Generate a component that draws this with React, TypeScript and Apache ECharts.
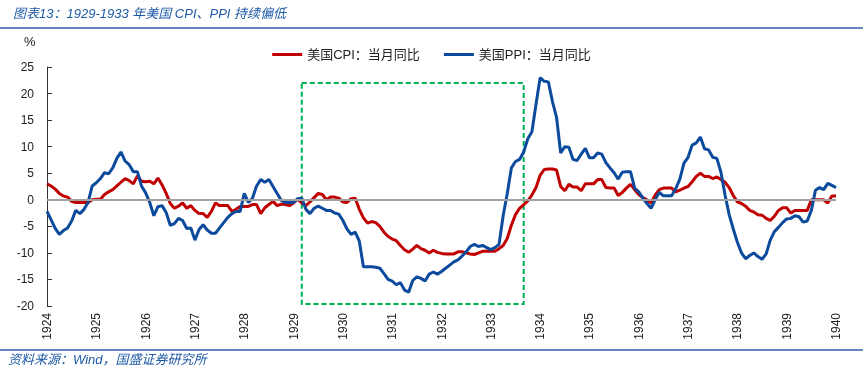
import React, { useEffect, useRef } from "react";
import * as echarts from "echarts";

const START_YEAR = 1924;

const cpi: number[] = [
  3.0, 2.6, 2.0, 1.2, 0.7, 0.5, -0.3, -0.5, -0.5, -0.5, -0.5, 0.0,
  0.1, 0.1, 1.0, 1.5, 1.9, 2.6, 3.3, 4.0, 3.6, 3.0, 4.5, 3.5,
  3.4, 3.5, 3.0, 4.1, 2.8, 1.2, -0.7, -1.6, -1.2, -0.6, -1.6, -1.1,
  -2.0, -2.6, -2.6, -3.3, -2.2, -0.6, -1.1, -1.1, -1.1, -2.2, -1.8, -1.25,
  -1.25, -1.25, -0.9, -0.9, -2.6, -1.5, -0.9, -0.3, -1.1, -0.8, -0.9, -1.1,
  -0.6, 0.1, -0.6, -1.1, -0.4, 0.4, 1.2, 1.0, 0.0, 0.5, 0.5, 0.3,
  -0.4, -0.5, 0.2, 0.3, -1.8, -3.4, -4.4, -4.1, -4.3, -5.0, -6.1, -6.9,
  -7.4, -7.7, -8.6, -9.4, -9.9, -9.3, -8.6, -9.2, -9.5, -10.0, -9.5, -9.9,
  -10.1, -10.2, -10.2, -10.2, -9.8, -9.8, -10.0, -10.2, -10.3, -10.0, -9.7, -9.7,
  -9.7, -9.7, -9.2, -8.6, -7.3, -4.8, -2.8, -1.6, -0.9, -0.2, 0.9, 2.3,
  4.6, 5.7, 5.8, 5.8, 5.6, 2.5, 1.7, 2.9, 2.4, 2.4, 1.7, 3.0,
  3.0, 3.0, 3.8, 3.8, 2.3, 2.2, 2.2, 0.8, 1.4, 2.2, 2.9, 1.9,
  1.0, 0.4, 0.0, -0.6, 0.9, 1.9, 2.2, 2.2, 2.2, 1.5, 1.8, 2.2,
  2.5, 3.4, 4.4, 5.0, 4.4, 4.4, 4.0, 4.3, 3.8, 3.3, 2.3, 0.8,
  -0.4, -0.7, -1.2, -2.0, -2.3, -2.8, -2.9, -3.5, -3.9, -3.1, -2.0, -1.5,
  -1.5, -2.5, -2.0, -2.0, -2.0, -2.0, 0.0, 0.0, 0.0, 0.0, -0.6, 0.7,
  0.7,
];

const ppi: number[] = [
  -2.2, -3.8, -5.4, -6.5, -5.8, -5.3, -4.0, -2.0, -2.6, -1.8, -0.5, 2.6,
  3.2, 4.0, 5.1, 4.9, 6.0, 7.8, 9.0, 7.3, 6.6, 5.3, 5.3, 2.6,
  1.3, -0.5, -3.0, -1.3, -1.1, -2.4, -4.8, -4.5, -3.5, -3.9, -5.4, -5.3,
  -7.6, -5.6, -4.7, -5.7, -6.3, -6.3, -5.3, -4.3, -3.3, -2.6, -2.2, -2.2,
  1.2, -0.5, 0.3, 2.6, 3.8, 3.3, 3.8, 2.5, 1.2, -0.1, -0.5, -0.5,
  -0.5, 0.2, 0.3, -1.8, -2.6, -1.6, -1.2, -1.6, -2.0, -2.0, -2.5, -2.7,
  -3.9, -5.5, -6.5, -6.1, -7.8, -12.6, -12.6, -12.6, -12.7, -12.9, -13.9, -15.0,
  -15.3, -16.0, -15.6, -17.0, -17.4, -15.2, -14.5, -14.8, -15.3, -14.0, -13.6, -14.0,
  -13.5, -12.9, -12.3, -11.7, -11.3, -10.6, -9.8, -8.8, -8.4, -8.8, -8.6, -9.0,
  -9.4, -9.0, -8.4, -3.0, 1.2, 6.0, 7.2, 7.6, 9.0, 11.5, 12.8, 18.0,
  23.0, 22.3, 22.2, 18.5, 15.5, 8.8, 10.0, 9.9, 7.6, 7.4, 8.6, 9.7,
  7.9, 7.9, 8.8, 8.6, 7.0, 6.0, 5.1, 3.9, 5.2, 5.3, 5.3, 2.2,
  1.5, 0.3, -0.7, -1.6, 0.0, 1.4, 0.75, 0.75, 0.75, 2.1, 3.9, 6.9,
  8.0, 10.3, 10.7, 11.8, 9.6, 9.4, 8.0, 7.8, 5.2, 0.9, -2.8, -5.5,
  -8.0, -10.0, -11.1, -10.5, -10.0, -10.7, -11.2, -10.2, -7.6, -6.0, -5.2, -4.3,
  -3.6, -3.5, -3.0, -3.2, -4.2, -4.0, -2.0, 1.8, 2.3, 1.9, 3.1, 2.7,
  2.3,
];

const months: string[] = cpi.map(
  (_, i) => `${START_YEAR + Math.floor(i / 12)}-${String((i % 12) + 1).padStart(2, "0")}`
);

const highlightStart = "1929-03";
const highlightEnd = "1933-09";
const highlightTop = 22;
const highlightBottom = -19.6;

const seriesNames = ["美国CPI：当月同比", "美国PPI：当月同比"];
const titleText = "图表13：1929-1933 年美国 CPI、PPI 持续偏低";
const sourceText = "资料来源：Wind，国盛证券研究所";

const FONT = "'Liberation Sans', Arial, 'Noto Sans CJK SC', sans-serif";
const BLUE_TEXT = "#1f5aa6";

export default function App() {
  const ref = useRef<HTMLDivElement>(null);
  useEffect(() => {
    if (!ref.current) return;
    const chart = echarts.init(ref.current, undefined, { renderer: "svg" });
    chart.setOption({
      animation: false,
      textStyle: { fontFamily: FONT },
      grid: { left: 47, right: 27, top: 67, bottom: 71 },
      legend: {
        data: seriesNames.map((n) => ({ name: n, icon: "rect" })),
        left: "center",
        top: 43,
        itemWidth: 30,
        itemHeight: 3,
        itemGap: 24,
        textStyle: { fontSize: 13, color: "#222", fontFamily: FONT },
      },
      xAxis: {
        type: "category",
        data: months,
        boundaryGap: false,
        axisLine: { show: false, onZero: false },
        axisTick: { show: false },
        axisLabel: {
          rotate: 90,
          interval: (i: number) => i % 12 === 0,
          formatter: (v: string) => v.slice(0, 4),
          fontSize: 12,
          color: "#222",
          margin: 7,
          fontFamily: FONT,
        },
        splitLine: { show: false },
      },
      yAxis: {
        type: "value",
        min: -20,
        max: 25,
        interval: 5,
        axisLine: { show: true, lineStyle: { color: "#333", width: 1 } },
        axisTick: { show: true, inside: true, length: 5, lineStyle: { color: "#333" } },
        axisLabel: { fontSize: 12, color: "#222", margin: 13, fontFamily: FONT },
        splitLine: { show: false },
      },
      series: [
        {
          name: "zero",
          type: "line",
          data: [],
          z: 1,
          silent: true,
          markLine: {
            silent: true,
            symbol: "none",
            label: { show: false },
            lineStyle: { color: "#a0a0a0", width: 2, type: "solid" },
            data: [{ yAxis: 0 }],
          },
        },
        {
          name: seriesNames[0],
          type: "line",
          data: cpi,
          showSymbol: false,
          symbol: "none",
          z: 3,
          lineStyle: { color: "#c00000", width: 3 },
          itemStyle: { color: "#c00000" },
        },
        {
          name: seriesNames[1],
          type: "line",
          data: ppi,
          showSymbol: false,
          symbol: "none",
          z: 4,
          lineStyle: { color: "#0b4a9c", width: 3 },
          itemStyle: { color: "#0b4a9c" },
        },
        {
          name: "box",
          type: "line",
          data: [],
          z: 5,
          silent: true,
          markArea: {
            silent: true,
            itemStyle: {
              color: "rgba(0,0,0,0)",
              borderColor: "#00b050",
              borderWidth: 2,
              borderType: [5, 3],
            },
            data: [
              [
                { coord: [highlightStart, highlightTop] },
                { coord: [highlightEnd, highlightBottom] },
              ],
            ],
          },
        },
      ],
      graphic: [
        {
          type: "text",
          left: 13,
          top: 7,
          style: {
            text: titleText,
            fontSize: 13,
            fontStyle: "italic",
            fill: BLUE_TEXT,
            fontFamily: FONT,
          },
        },
        {
          type: "line",
          shape: { x1: 0, y1: 28, x2: 863, y2: 28 },
          style: { stroke: "#2f5fa8", lineWidth: 1.5 },
        },
        {
          type: "text",
          left: 24,
          top: 35,
          style: { text: "%", fontSize: 13, fill: "#222", fontFamily: FONT },
        },
        {
          type: "line",
          shape: { x1: 0, y1: 350, x2: 863, y2: 350 },
          style: { stroke: "#2f5fa8", lineWidth: 1.5 },
        },
        {
          type: "text",
          left: 8,
          top: 353,
          style: {
            text: sourceText,
            fontSize: 13,
            fontStyle: "italic",
            fill: BLUE_TEXT,
            fontFamily: FONT,
          },
        },
      ],
    });
    return () => chart.dispose();
  }, []);
  return (
    <div
      ref={ref}
      style={{ position: "fixed", left: 0, top: 0, width: 863, height: 377 }}
    />
  );
}
